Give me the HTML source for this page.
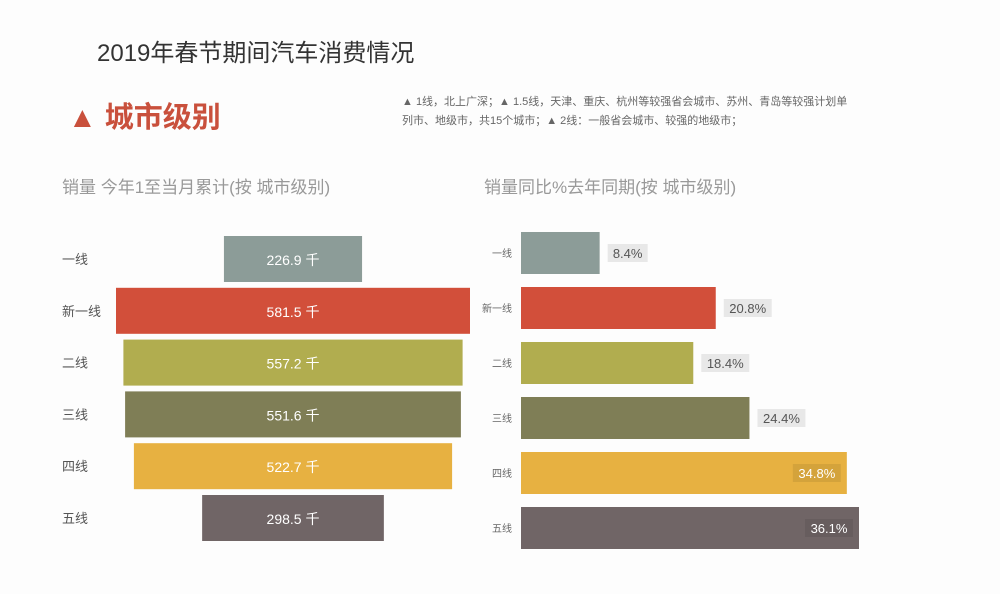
<!DOCTYPE html>
<html><head><meta charset="utf-8"><style>
body{margin:0;width:1000px;height:594px;background:#fdfdfd;overflow:hidden;font-family:"Liberation Sans","Noto Sans CJK SC",sans-serif}
svg{position:absolute;left:0;top:0}
</style></head><body>
<svg width="1000" height="594">
<text x="97" y="61" font-size="24" fill="#333" font-family="Liberation Sans, Noto Sans CJK SC, sans-serif">2019年春节期间汽车消费情况</text>
<text x="68" y="127" font-size="29" font-weight="bold" fill="#c9503c" font-family="Liberation Sans, Noto Sans CJK SC, sans-serif">▲ 城市级别</text>
<text x="402" y="105" font-size="11" fill="#666" font-family="Liberation Sans, Noto Sans CJK SC, sans-serif">▲ 1线，北上广深；▲ 1.5线，天津、重庆、杭州等较强省会城市、苏州、青岛等较强计划单</text>
<text x="402" y="124" font-size="11" fill="#666" font-family="Liberation Sans, Noto Sans CJK SC, sans-serif">列市、地级市，共15个城市；▲ 2线：一般省会城市、较强的地级市；</text>
<text x="62" y="193" font-size="17" fill="#999" font-family="Liberation Sans, Noto Sans CJK SC, sans-serif">销量 今年1至当月累计(按 城市级别)</text>
<text x="484" y="193" font-size="17" fill="#999" font-family="Liberation Sans, Noto Sans CJK SC, sans-serif">销量同比%去年同期(按 城市级别)</text>
<g id="left"></g><g id="right"></g>
</svg>
<script>
const categories=["一线","新一线","二线","三线","四线","五线"];
const salesValues=[226.9,581.5,557.2,551.6,522.7,298.5];
const growthValues=[8.4,20.8,18.4,24.4,34.8,36.1];
const colors=["#8c9c98","#d24f3a","#b1ad4f","#7f7e56","#e7b141","#706566"];
const NS="http://www.w3.org/2000/svg";
function mk(t,a,p){const e=document.createElementNS(NS,t);for(const k in a)e.setAttribute(k,a[k]);p.appendChild(e);return e;}
const L=document.getElementById('left'),R=document.getElementById('right');
const font="Liberation Sans, Noto Sans CJK SC, sans-serif";
function xL(v){return v*354/581.5;}
function yL(i){return 236+i*51.8;}
function xR(v){return 521+v*338/36.1;}
function yR(i){return 232+i*55;}
categories.forEach((c,i)=>{
 const w=xL(salesValues[i]),y=yL(i);
 const b=mk('rect',{x:293-w/2,y:y,width:w,height:46,fill:colors[i]},L);
 
 
 const t=mk('text',{x:293,y:y+29,'font-size':14,fill:'#fff','text-anchor':'middle','font-family':font},L);t.textContent=salesValues[i].toFixed(1)+' 千';
 
 
 const lt=mk('text',{x:62,y:y+28,'font-size':13,fill:'#555','font-family':font},L);lt.textContent=c;
 
 
 const yr=yR(i),xe=xR(growthValues[i]);
 const rb=mk('rect',{x:521,y:yr,width:xe-521,height:42,fill:colors[i]},R);
 
 
 const label=growthValues[i].toFixed(1)+'%';
 const inside=growthValues[i]>30;
 const lw=label.length*8+8;
 const lx=inside?xe-lw-6:xe+8;
 const bg=mk('rect',{x:lx,y:yr+12,width:lw,height:18,fill:inside?'rgba(0,0,0,0.08)':'#e8e8e8'},R);
 
 
 const gt=mk('text',{x:lx+lw/2,y:yr+26,'font-size':13,fill:inside?'#fff':'#555','text-anchor':'middle','font-family':font},R);gt.textContent=label;
 
 
 const rl=mk('text',{x:512,y:yr+25,'font-size':10,fill:'#666','text-anchor':'end','font-family':font},R);rl.textContent=c;
 
 
});
</script>
</body></html>
